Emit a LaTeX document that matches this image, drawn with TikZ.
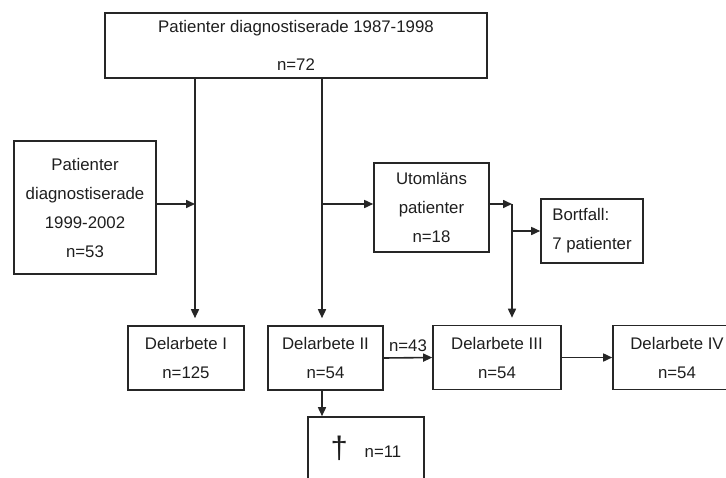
\documentclass[tikz,border=0pt]{standalone}
\usepackage{fontspec}
\setmainfont{Liberation Sans}
\usetikzlibrary{arrows.meta,positioning,calc}
\definecolor{LineDark}{HTML}{262626}
\definecolor{TextDark}{HTML}{1E1E1E}
\tikzset{
  flowbox/.style={draw=LineDark, line width=1.6pt, align=center, inner sep=0pt, text=TextDark, font=\fontsize{16.8}{29}\selectfont},
  arrow/.style={-{Triangle[length=9pt,width=8pt]}, line width=1.6pt, draw=LineDark},
  gap/.style={shorten >=7pt}
}

\begin{document}
\begin{tikzpicture}[x=1pt, y=-1pt]
  \useasboundingbox (0,0) rectangle (726,477);
  \clip (0,0) rectangle (726,477);

  \coordinate (colA) at (195,0);
  \coordinate (colB) at (322,0);
  \coordinate (colC) at (512,0);
  \coordinate (rowA) at (0,204);

  \node[flowbox, minimum width=382pt, minimum height=65pt, font=\fontsize{16.8}{38}\selectfont] (early) at (296,45.5) {Patienter diagnostiserade 1987-1998\\n=72};
  \node[flowbox, minimum width=142pt, minimum height=133pt] (late) at (85,207.5) {Patienter\\diagnostiserade\\1999-2002\\n=53};
  \node[flowbox, minimum width=115pt, minimum height=89pt] (outside) at (431.5,207.5) {Utomläns\\patienter\\n=18};
  \node[flowbox, minimum width=102pt, minimum height=64pt, align=left] (dropout) at (592,231) {Bortfall:\\7 patienter};
  \node[flowbox, minimum width=116pt, minimum height=64pt] (paperI) at (186,358) {Delarbete I\\n=125};
  \node[flowbox, minimum width=115pt, minimum height=64pt] (paperII) at (325.5,358) {Delarbete II\\n=54};
  \node[flowbox, minimum width=128pt, minimum height=64pt] (paperIII) at (497,357.5) {Delarbete III\\n=54};
  \node[flowbox, minimum width=128pt, minimum height=64pt] (paperIV) at (677,357.5) {Delarbete IV\\n=54};
  \node[flowbox, minimum width=116pt, minimum height=62pt] (deceased) at (366,448) {\raisebox{-1pt}{\fontsize{31}{31}\selectfont\textdagger}\quad n=11};

  \draw[arrow, gap] (early.south -| colA) -- (paperI.north -| colA);
  \draw[arrow, gap] (early.south -| colB) -- (paperII.north -| colB);
  \draw[arrow] (late.east |- rowA) -- (rowA -| colA);
  \draw[arrow] (rowA -| colB) -- (outside.west |- rowA);
  \draw[arrow] (outside.east |- rowA) -- (rowA -| colC);
  \draw[arrow, gap] (rowA -| colC) -- (paperIII.north -| colC);
  \draw[arrow] (dropout.west -| colC) -- (dropout.west);
  \draw[arrow] (paperII.east) -- node[above=5pt, inner sep=0pt, text=TextDark, font=\fontsize{16.8}{20}\selectfont] {n=43} (paperIII.west);
  \draw[arrow] (paperIII.east) -- (paperIV.west);
  \draw[arrow] (paperII.south -| colB) -- (deceased.north -| colB);
\end{tikzpicture}
\end{document}
